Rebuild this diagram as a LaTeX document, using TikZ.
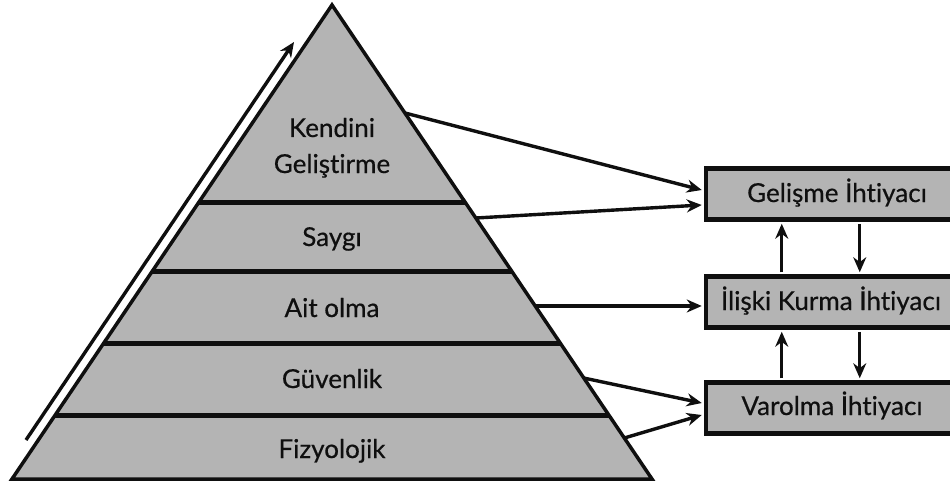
\documentclass[tikz,border=0pt]{standalone}
\usepackage{fontspec}
\setmainfont{Lato}[Ligatures={NoCommon},FakeBold=0.5]
\usetikzlibrary{arrows.meta,calc}
\definecolor{pgray}{RGB}{180,180,180}
\definecolor{ink}{RGB}{15,15,15}
\begin{document}
\begin{tikzpicture}[x=1pt,y=-1pt,
  lbl/.style={font=\fontsize{26}{30}\selectfont, text=ink, inner sep=0pt, anchor=base},
  needbox/.style={draw=ink, line width=4.5pt, fill=pgray, minimum width=252pt, minimum height=51pt, inner sep=0pt},
  conn/.style={draw=ink, line width=3.4pt, -{Stealth[length=15pt,width=13pt]}},
  band/.style={draw=ink, line width=5pt}]
\useasboundingbox (0,0) rectangle (950,484);
% pyramid
\coordinate (A) at (332,5);
\coordinate (BL) at (12,479);
\coordinate (BR) at (652,479);
\fill[pgray] (A) -- (BL) -- (BR) -- cycle;
\foreach \t/\n in {0.4177/1,0.5612/2,0.7131/3,0.8650/4}{
  \draw[band] ($(A)!\t!(BL)$) -- ($(A)!\t!(BR)$);
}
\draw[ink, line width=3.5pt, line join=miter] (A) -- (BL) -- (BR) -- cycle;
% left arrow
\coordinate (la1) at (26,440);
\coordinate (la2) at (294,42);
\draw[conn] (la1) -- (la2);
% texts
\node[lbl] (k1) at (332,137) {Kendini};
\node[lbl] (k2) at (332,173) {Geliştirme};
\node[lbl] (sa) at (332,246) {Saygı};
\node[lbl] (ao) at (332,317) {Ait olma};
\node[lbl] (gu) at (332,388) {Güvenlik};
\node[lbl] (fi) at (332,458) {Fizyolojik};
% boxes
\node[needbox] (g) at (832,194) {};
\node[needbox] (i) at (832,302) {};
\node[needbox] (v) at (832,408) {};
\node[lbl] (gt) at (837,202) {Gelişme İhtiyacı};
\node[lbl] (it) at (831,310) {İlişki Kurma İhtiyacı};
\node[lbl] (vt) at (832,415) {Varolma İhtiyacı};
% start points on pyramid right edge
\coordinate (s1) at ($(A)!0.2278!(BR)$);
\coordinate (s2) at ($(A)!0.4494!(BR)$);
\coordinate (s3) at ($(A)!0.6350!(BR)$);
\coordinate (s4) at ($(A)!0.7870!(BR)$);
\coordinate (s5) at ($(A)!0.9135!(BR)$);
\coordinate (e1) at ($(g.west)+(-2,-4)$);
\coordinate (e2) at ($(g.west)+(-2,11)$);
\coordinate (e3) at ($(s3 -| i.west)+(-2,0)$);
\coordinate (e4) at ($(v.west)+(-2,-5)$);
\coordinate (e5) at ($(v.west)+(-2,7)$);
\draw[conn] (s1) -- (e1);
\draw[conn] (s2) -- (e2);
\draw[conn] (s3) -- (e3);
\draw[conn] (s4) -- (e4);
\draw[conn] (s5) -- (e5);
% vertical arrows
\coordinate (u1a) at ($(i.north west)+(78,0)$);
\coordinate (u1b) at (u1a |- g.south);
\coordinate (d1a) at ($(g.south west)+(156,0)$);
\coordinate (d1b) at (d1a |- i.north);
\coordinate (u2a) at ($(v.north west)+(78,0)$);
\coordinate (u2b) at (u2a |- i.south);
\coordinate (d2a) at ($(i.south west)+(156,0)$);
\coordinate (d2b) at (d2a |- v.north);
\draw[conn] ($(u1a)+(0,-2)$) -- ($(u1b)+(0,2)$);
\draw[conn] ($(d1a)+(0,2)$) -- ($(d1b)+(0,-2)$);
\draw[conn] ($(u2a)+(0,-2)$) -- ($(u2b)+(0,2)$);
\draw[conn] ($(d2a)+(0,2)$) -- ($(d2b)+(0,-2)$);
\end{tikzpicture}
\end{document}
